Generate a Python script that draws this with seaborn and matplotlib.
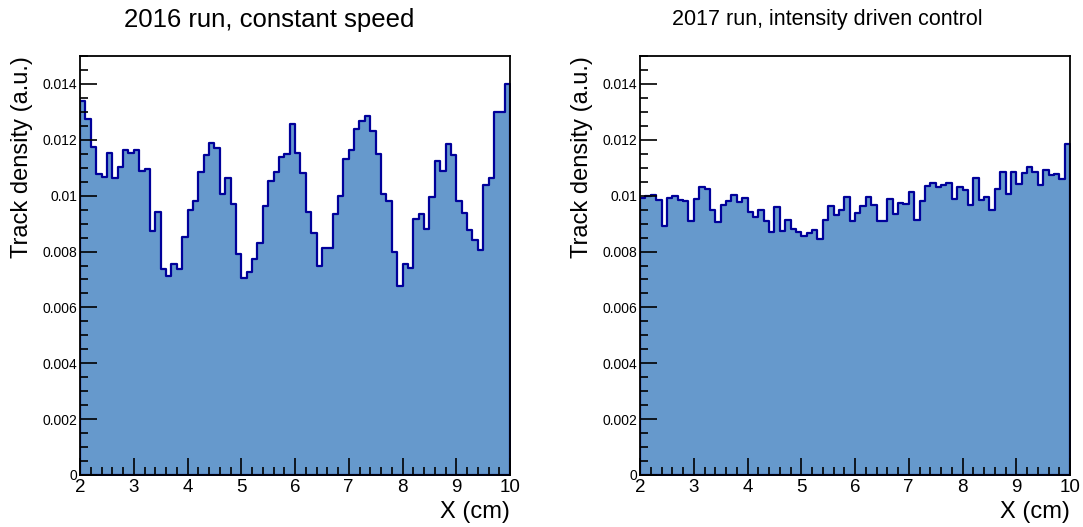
import numpy as np
import pandas as pd
import matplotlib
matplotlib.use("Agg")
import matplotlib.pyplot as plt
from matplotlib.ticker import MultipleLocator
import seaborn as sns

# ---- data ----
x_min, x_max, n_bins = 2.0, 10.0, 80
edges = np.linspace(x_min, x_max, n_bins + 1)
centers = 0.5 * (edges[:-1] + edges[1:])

density_2016 = [
    0.01340, 0.01275, 0.01173, 0.01077, 0.01068, 0.01151, 0.01065, 0.01104, 0.01164, 0.01154,
    0.01165, 0.01090, 0.01095, 0.00874, 0.00943, 0.00739, 0.00714, 0.00754, 0.00737, 0.00852,
    0.00948, 0.00980, 0.01086, 0.01146, 0.01190, 0.01170, 0.01007, 0.01065, 0.00971, 0.00790,
    0.00706, 0.00726, 0.00774, 0.00830, 0.00962, 0.01052, 0.01086, 0.01137, 0.01149, 0.01258,
    0.01152, 0.01081, 0.00940, 0.00865, 0.00750, 0.00813, 0.00813, 0.00933, 0.00998, 0.01131,
    0.01165, 0.01237, 0.01268, 0.01285, 0.01230, 0.01149, 0.01005, 0.00980, 0.00798, 0.00676,
    0.00755, 0.00740, 0.00915, 0.00936, 0.00882, 0.00995, 0.01123, 0.01088, 0.01186, 0.01146,
    0.00980, 0.00937, 0.00876, 0.00842, 0.00805, 0.01038, 0.01065, 0.01301, 0.01298, 0.01401,
]

density_2017 = [
    0.00990, 0.00998, 0.01004, 0.00985, 0.00890, 0.00993, 0.01000, 0.00986, 0.00982, 0.00911,
    0.00988, 0.01030, 0.01023, 0.00949, 0.00905, 0.00965, 0.00980, 0.01001, 0.00979, 0.00992,
    0.00943, 0.00925, 0.00948, 0.00908, 0.00869, 0.00960, 0.00874, 0.00913, 0.00882, 0.00871,
    0.00857, 0.00865, 0.00877, 0.00846, 0.00913, 0.00963, 0.00929, 0.00950, 0.00996, 0.00910,
    0.00939, 0.00964, 0.00996, 0.00965, 0.00908, 0.00911, 0.00989, 0.00936, 0.00973, 0.00970,
    0.01012, 0.00913, 0.00980, 0.01035, 0.01045, 0.01030, 0.01037, 0.01044, 0.00988, 0.01030,
    0.01021, 0.00967, 0.01064, 0.00983, 0.00996, 0.00949, 0.01025, 0.01085, 0.01005, 0.01085,
    0.01042, 0.01080, 0.01104, 0.01083, 0.01037, 0.01093, 0.01073, 0.01079, 0.01058, 0.01185,
]

titles = ["2016 run, constant speed", "2017 run, intensity driven control"]
y_ticks = [0, 0.002, 0.004, 0.006, 0.008, 0.01, 0.012, 0.014]
y_tick_labels = ["0", "0.002", "0.004", "0.006", "0.008", "0.01", "0.012", "0.014"]
x_ticks = [2, 3, 4, 5, 6, 7, 8, 9, 10]
x_label = "X (cm)"
y_label = "Track density (a.u.)"

# ---- style ----
sns.set_style("ticks")
plt.rcParams["font.family"] = ["Liberation Sans", "DejaVu Sans"]
plt.rcParams["text.color"] = "black"
plt.rcParams["axes.labelcolor"] = "black"
plt.rcParams["xtick.color"] = "black"
plt.rcParams["ytick.color"] = "black"
plt.rcParams["axes.axisbelow"] = False

fill_color = "#6699cc"
line_color = "#00009a"

W, H = 1083, 527
fig = plt.figure(figsize=(W / 100, H / 100), dpi=100)

frames = [(80, 56, 510, 475), (640, 56, 1070, 475)]
title_pos = [(269, 20, 18.5), (827, 20, 15.5)]
ylab_x = [22, 582]

for i, data in enumerate([density_2016, density_2017]):
    l, t, r, b = frames[i]
    ax = fig.add_axes([l / W, 1 - b / H, (r - l) / W, (b - t) / H])
    df = pd.DataFrame({"x": centers, "w": data})
    sns.histplot(data=df, x="x", weights="w", bins=n_bins, binrange=(x_min, x_max),
                 element="step", fill=True,
                 color=fill_color, edgecolor=line_color, linewidth=1.6, alpha=1.0,
                 ax=ax)
    ax.set_axisbelow(False)
    ax.set_xlim(x_min, x_max)
    ax.set_ylim(0, 0.015)
    ax.set_xticks(x_ticks)
    ax.set_xticklabels([str(v) for v in x_ticks], fontsize=13.5)
    ax.set_yticks(y_ticks)
    ax.set_yticklabels(y_tick_labels, fontsize=10)
    ax.xaxis.set_minor_locator(MultipleLocator(0.2))
    ax.yaxis.set_minor_locator(MultipleLocator(0.0005))
    ax.tick_params(which="both", direction="in", top=False, right=False, width=1.2,
                   color="black", labelcolor="black")
    ax.tick_params(which="major", length=12)
    ax.tick_params(which="minor", length=6)
    ax.tick_params(axis="x", which="major", pad=3)
    ax.tick_params(axis="y", which="major", pad=2)
    for s in ax.spines.values():
        s.set_linewidth(1.3)
        s.set_color("black")
        s.set_visible(True)
        s.set_zorder(5)
    ax.set_xlabel("")
    ax.set_ylabel("")
    fig.text(r / W, 1 - 512 / H, x_label, ha="right", va="center", fontsize=17, color="black")
    fig.text(ylab_x[i] / W, 1 - t / H, y_label, ha="center", va="top", rotation=90,
             fontsize=17, color="black")
    tx, ty, tfs = title_pos[i]
    fig.text(tx / W, 1 - ty / H, titles[i], ha="center", va="center", fontsize=tfs, color="black")

fig.savefig("out.png", dpi=100, facecolor="white")
